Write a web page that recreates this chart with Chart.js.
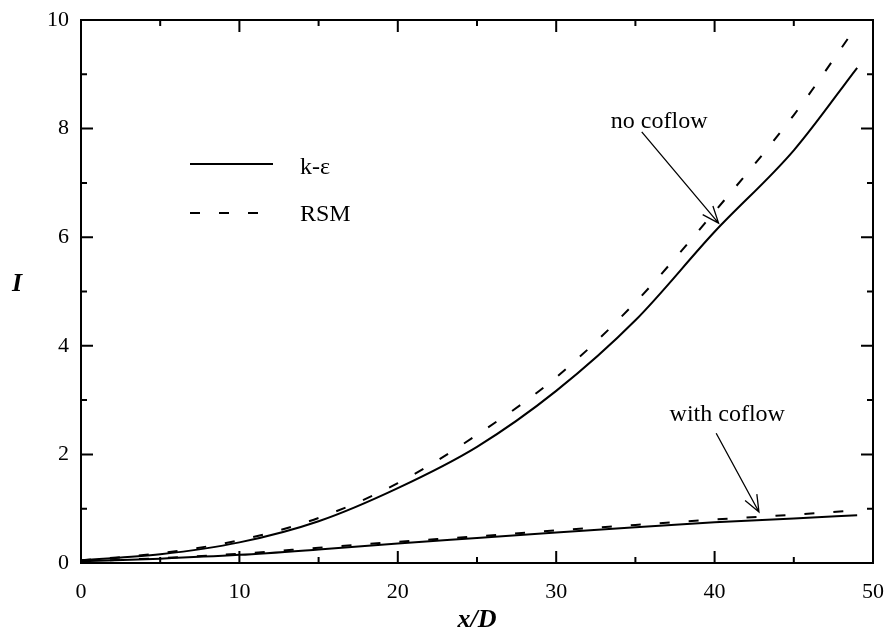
<!DOCTYPE html>
<html>
<head>
<meta charset="utf-8">
<script src="https://cdn.jsdelivr.net/npm/chart.js@4"></script>
<style>
  html, body { margin: 0; padding: 0; background: #fff; }
  #wrap { width: 888px; height: 632px; }
</style>
</head>
<body>
<div id="wrap"><canvas id="chart"></canvas></div>
<script>
// x/D stations
const xD = [0, 5, 10, 15, 20, 25, 30, 35, 40, 45, 49];

// turbulence intensity I, no coflow
const keNoCoflow  = [0.05, 0.16, 0.38, 0.77, 1.38, 2.14, 3.17, 4.47, 6.1, 7.6, 9.12];
const rsmNoCoflow = [0.05, 0.18, 0.42, 0.83, 1.47, 2.36, 3.42, 4.8, 6.47, 8.25, 9.9];

// turbulence intensity I, with coflow
const keCoflow  = [0.03, 0.08, 0.15, 0.25, 0.36, 0.46, 0.56, 0.66, 0.75, 0.82, 0.88];
const rsmCoflow = [0.03, 0.09, 0.17, 0.28, 0.39, 0.49, 0.6, 0.7, 0.8, 0.89, 0.97];

const xTicks = [0, 10, 20, 30, 40, 50];
const yTicks = [0, 2, 4, 6, 8, 10];

const SERIF = '"Liberation Serif", "DejaVu Serif", serif';
const DASH = [10, 19];

function pts(ys) {
    return xD.map((x, i) => ({ x: x, y: ys[i] }));
}

function line(label, ys, dashed) {
    return {
        label: label,
        data: pts(ys),
        borderColor: '#000',
        borderWidth: 2,
        borderDash: dashed ? DASH : [],
        pointRadius: 0,
        cubicInterpolationMode: 'monotone',
        fill: false,
    };
}

// frame, inward ticks, legend, axis titles and arrows
const decor = {
    id: 'decor',
    afterDraw(chart) {
        const ctx = chart.ctx;
        const a = chart.chartArea;
        const xs = chart.scales.x;
        const ys = chart.scales.y;
        ctx.save();
        ctx.strokeStyle = '#000';
        ctx.fillStyle = '#000';
        ctx.lineWidth = 2;
        ctx.strokeRect(a.left, a.top, a.right - a.left, a.bottom - a.top);

        // ticks pointing inside, major and minor
        const tick = (px, len, vertical) => {
            ctx.beginPath();
            if (vertical) {
                ctx.moveTo(px, a.bottom); ctx.lineTo(px, a.bottom - len);
                ctx.moveTo(px, a.top); ctx.lineTo(px, a.top + len);
            } else {
                ctx.moveTo(a.left, px); ctx.lineTo(a.left + len, px);
                ctx.moveTo(a.right, px); ctx.lineTo(a.right - len, px);
            }
            ctx.stroke();
        };
        xTicks.forEach((v, i) => {
            tick(xs.getPixelForValue(v), 12, true);
            if (i < xTicks.length - 1) tick(xs.getPixelForValue(v + 5), 6, true);
        });
        yTicks.forEach((v, i) => {
            tick(ys.getPixelForValue(v), 12, false);
            if (i < yTicks.length - 1) tick(ys.getPixelForValue(v + 1), 6, false);
        });

        // legend
        ctx.font = '24px ' + SERIF;
        ctx.textBaseline = 'middle';
        ctx.textAlign = 'left';
        ctx.beginPath();
        ctx.moveTo(190, 164); ctx.lineTo(273, 164);
        ctx.stroke();
        ctx.fillText('k-\u03b5', 300, 168);
        ctx.setLineDash(DASH);
        ctx.beginPath();
        ctx.moveTo(190, 213); ctx.lineTo(273, 213);
        ctx.stroke();
        ctx.setLineDash([]);
        ctx.fillText('RSM', 300, 215);

        // axis titles
        ctx.font = 'italic bold 26px ' + SERIF;
        ctx.textAlign = 'center';
        ctx.fillText('x/D', (a.left + a.right) / 2, 620);
        ctx.fillText('I', 17, 284);

        // annotations with arrows, placed in data space
        const arrow = (x0, y0, x1, y1) => {
            const p0 = [xs.getPixelForValue(x0), ys.getPixelForValue(y0)];
            const p1 = [xs.getPixelForValue(x1), ys.getPixelForValue(y1)];
            const ang = Math.atan2(p1[1] - p0[1], p1[0] - p0[0]);
            const h = 18, spread = 0.38;
            ctx.lineWidth = 1.3;
            ctx.beginPath();
            ctx.moveTo(p0[0], p0[1]); ctx.lineTo(p1[0], p1[1]);
            ctx.moveTo(p1[0] - h * Math.cos(ang - spread), p1[1] - h * Math.sin(ang - spread));
            ctx.lineTo(p1[0], p1[1]);
            ctx.lineTo(p1[0] - h * Math.cos(ang + spread), p1[1] - h * Math.sin(ang + spread));
            ctx.stroke();
        };
        ctx.font = '24px ' + SERIF;
        ctx.fillText('no coflow', xs.getPixelForValue(36.5), ys.getPixelForValue(8.12));
        arrow(35.4, 7.94, 40.25, 6.26);
        ctx.fillText('with coflow', xs.getPixelForValue(40.8), ys.getPixelForValue(2.73));
        arrow(40.1, 2.39, 42.8, 0.94);
        ctx.restore();
    }
};

new Chart(document.getElementById('chart'), {
    type: 'line',
    data: {
        datasets: [
            line('k-\u03b5 no coflow', keNoCoflow, false),
            line('RSM no coflow', rsmNoCoflow, true),
            line('k-\u03b5 with coflow', keCoflow, false),
            line('RSM with coflow', rsmCoflow, true),
        ]
    },
    options: {
        responsive: true,
        maintainAspectRatio: false,
        animation: false,
        layout: { padding: { top: 20, right: 15, left: 0, bottom: 0 } },
        plugins: {
            legend: { display: false },
            tooltip: { enabled: false },
        },
        scales: {
            x: {
                type: 'linear',
                min: 0, max: 50,
                grid: { display: false, drawTicks: false },
                border: { display: false },
                afterBuildTicks: (s) => { s.ticks = xTicks.map(v => ({ value: v })); },
                afterFit: (s) => { s.height = 69; s.paddingLeft = 0; s.paddingRight = 0; },
                ticks: {
                    padding: 16,
                    color: '#000',
                    font: { family: SERIF, size: 22 },
                },
            },
            y: {
                type: 'linear',
                min: 0, max: 10,
                grid: { display: false, drawTicks: false },
                border: { display: false },
                afterBuildTicks: (s) => { s.ticks = yTicks.map(v => ({ value: v })); },
                afterFit: (s) => { s.width = 81; s.paddingTop = 0; s.paddingBottom = 0; },
                ticks: {
                    padding: 12,
                    color: '#000',
                    font: { family: SERIF, size: 22 },
                },
            },
        },
    },
    plugins: [decor],
});
</script>
</body>
</html>
